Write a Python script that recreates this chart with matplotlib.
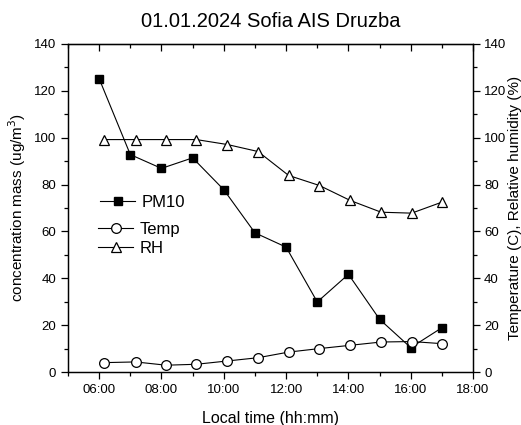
import numpy as np
import matplotlib
matplotlib.use('Agg')
import matplotlib.pyplot as plt
from matplotlib.ticker import MultipleLocator, FuncFormatter

plt.rcParams['font.family'] = ['Liberation Sans', 'DejaVu Sans']

# data (hours, local time)
t_pm = [6.0, 7.0, 8.0, 9.0, 10.0, 11.0, 12.0, 13.0, 14.0, 15.0, 16.0, 17.0]
pm10 = [125.2, 92.8, 86.9, 91.4, 77.8, 59.4, 53.3, 29.9, 41.7, 22.5, 10.4, 18.9]

t_met = [6.17, 7.17, 8.15, 9.12, 10.11, 11.1, 12.08, 13.07, 14.06, 15.05, 16.03, 17.0]
temp = [4.0, 4.3, 2.9, 3.3, 4.7, 6.1, 8.5, 10.0, 11.4, 12.8, 13.0, 12.1]
rh = [99.2, 99.2, 99.2, 99.2, 97.1, 94.1, 83.9, 79.6, 73.2, 68.2, 67.8, 72.5]

fig = plt.figure(figsize=(5.21, 4.25), dpi=100)
ax = fig.add_axes([0.1305, 0.1247, 0.7775, 0.7718])
ax2 = ax.twinx()

l1, = ax.plot(t_pm, pm10, color='black', lw=0.8, marker='s', ms=5.5,
              mfc='black', mec='black', label='PM10')
l2, = ax2.plot(t_met, temp, color='black', lw=0.8, marker='o', ms=7,
               mfc='white', mec='black', mew=0.9, label='Temp')
l3, = ax2.plot(t_met, rh, color='black', lw=0.8, marker='^', ms=7.5,
               mfc='white', mec='black', mew=0.9, label='RH')

for a in (ax, ax2):
    a.set_ylim(0, 140)
    a.yaxis.set_major_locator(MultipleLocator(20))
    a.yaxis.set_minor_locator(MultipleLocator(10))
ax.set_xlim(5, 18)
ax.xaxis.set_major_locator(MultipleLocator(2))
ax.xaxis.set_minor_locator(MultipleLocator(1))
ax.xaxis.set_major_formatter(FuncFormatter(lambda v, p: '{:02d}:00'.format(int(round(v)))))

ax.tick_params(axis='both', which='both', direction='out', labelsize=9.5, width=0.9)
ax.tick_params(which='major', length=5)
ax.tick_params(which='minor', length=3)
ax.tick_params(axis='x', which='both', top=False)
ax2.tick_params(axis='y', which='both', direction='out', labelsize=9.5, width=0.9, pad=3)
ax2.tick_params(which='major', length=5)
ax2.tick_params(which='minor', length=3)

# top ticks point inward
axt = ax.secondary_xaxis('top')
axt.xaxis.set_major_locator(MultipleLocator(2))
axt.xaxis.set_minor_locator(MultipleLocator(1))
axt.tick_params(which='both', direction='in', labeltop=False, width=0.9)
axt.tick_params(which='major', length=5)
axt.tick_params(which='minor', length=3)

for a in (ax, ax2):
    for s in a.spines.values():
        s.set_linewidth(0.9)

ax.set_xlabel('Local time (hh:mm)', fontsize=11.5, labelpad=11)
ax.set_ylabel('concentration mass (ug/m$^3$)', fontsize=11, labelpad=4)
ax2.set_ylabel('Temperature (C), Relative humidity (%)', fontsize=11, labelpad=1)
ax.set_title('01.01.2024 Sofia AIS Druzba', fontsize=14.5, pad=12)

# two legends to mimic the uneven spacing of the original
ax.legend(handles=[l1], loc='center left', bbox_to_anchor=(0.08, 0.518),
          frameon=False, fontsize=12, handlelength=2.1, handletextpad=0.35,
          borderaxespad=0, borderpad=0)
ax2.legend(handles=[l2, l3], loc='upper left', bbox_to_anchor=(0.075, 0.457),
           frameon=False, fontsize=12, handlelength=2.1, handletextpad=0.35,
           labelspacing=0.25, borderaxespad=0, borderpad=0)

fig.savefig('out.png', dpi=100)
